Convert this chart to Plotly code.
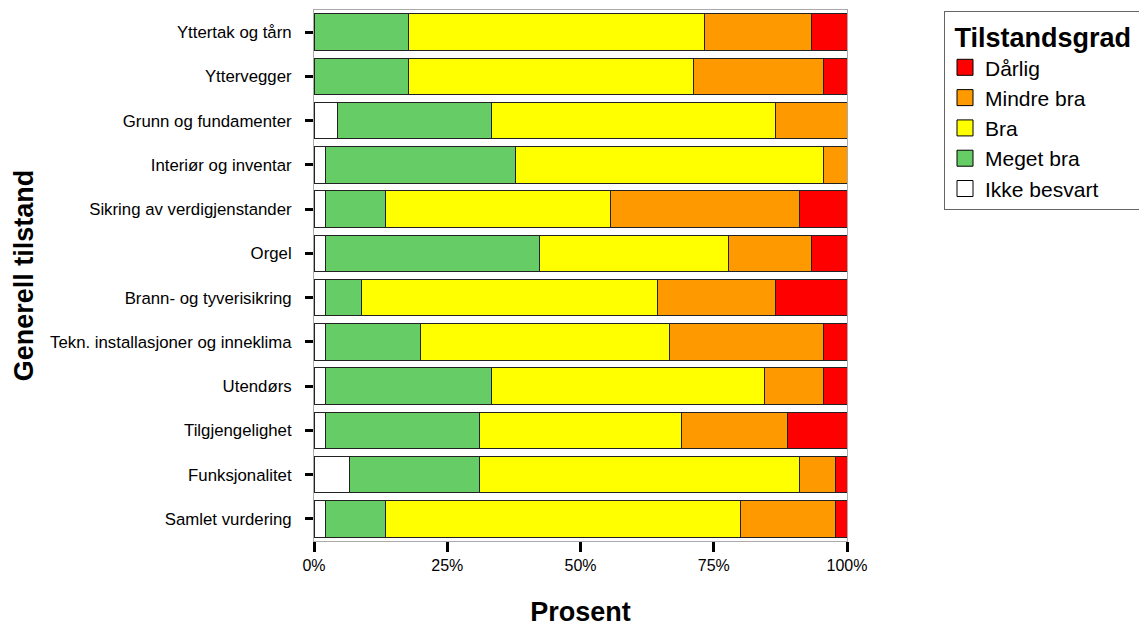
import plotly.graph_objects as go

categories = [
    "Yttertak og tårn",
    "Yttervegger",
    "Grunn og fundamenter",
    "Interiør og inventar",
    "Sikring av verdigjenstander",
    "Orgel",
    "Brann- og tyverisikring",
    "Tekn. installasjoner og inneklima",
    "Utendørs",
    "Tilgjengelighet",
    "Funksjonalitet",
    "Samlet vurdering",
]

# Counts per category (stacked and normalised to percent by Plotly)
ikke_besvart = [0, 0, 2, 1, 1, 1, 1, 1, 1, 1, 3, 1]
meget_bra    = [8, 8, 13, 16, 5, 18, 3, 8, 14, 13, 11, 5]
bra          = [25, 24, 24, 26, 19, 16, 25, 21, 23, 17, 27, 30]
mindre_bra   = [9, 11, 6, 2, 16, 7, 10, 13, 5, 9, 3, 8]
darlig       = [3, 2, 0, 0, 4, 3, 6, 2, 2, 5, 1, 1]

series = [
    ("Ikke besvart", ikke_besvart, "#FFFFFF"),
    ("Meget bra", meget_bra, "#66CC66"),
    ("Bra", bra, "#FFFF00"),
    ("Mindre bra", mindre_bra, "#FF9900"),
    ("Dårlig", darlig, "#FF0000"),
]

x_ticks = [0, 25, 50, 75, 100]
x_tick_labels = ["0%", "25%", "50%", "75%", "100%"]

FONT = "Liberation Sans, Arial, sans-serif"
NB = "\u00a0"

fig = go.Figure()
for name, vals, color in series:
    fig.add_trace(go.Bar(
        y=categories, x=vals, name=name, orientation="h",
        legendgroup=name, showlegend=False,
        marker=dict(color=color, line=dict(color="#222222", width=1)),
    ))
# legend entries with larger square swatches
for name, vals, color in series:
    fig.add_trace(go.Scatter(
        x=[None], y=[None], mode="markers", name=name, legendgroup=name,
        marker=dict(symbol="square", size=20, color=color,
                    line=dict(color="black", width=1)),
    ))

fig.update_layout(
    barmode="stack",
    barnorm="percent",
    bargap=0.17,
    width=1147, height=626,
    margin=dict(l=306, r=308, t=2, b=93, autoexpand=False),
    plot_bgcolor="white",
    paper_bgcolor="white",
    font=dict(family=FONT, color="black"),
    legend=dict(
        title=dict(text=NB + "<b>Tilstandsgrad</b>" + NB * 10,
                   font=dict(size=27, family=FONT)),
        traceorder="reversed",
        itemsizing="trace",
        font=dict(size=21, family=FONT),
        x=1.182, y=0.998, xanchor="left", yanchor="top",
        bordercolor="#666666", borderwidth=1,
        tracegroupgap=0,
    ),
    xaxis=dict(
        range=[0, 100],
        tickvals=x_ticks, ticktext=x_tick_labels,
        ticks="outside", ticklen=10, tickwidth=3, tickcolor="black",
        tickfont=dict(size=16),
        showgrid=False, zeroline=False, automargin=False,
        showline=True, linecolor="#aaaaaa", linewidth=1, mirror=True,
        title=dict(text="<b>Prosent</b>", font=dict(size=27), standoff=28),
    ),
    yaxis=dict(
        categoryorder="array", categoryarray=categories,
        autorange="reversed",
        ticks="outside", ticklen=8, tickwidth=3, tickcolor="black",
        tickfont=dict(size=16.8),
        ticklabelstandoff=10,
        showgrid=False, zeroline=False, automargin=False,
        showline=True, linecolor="#aaaaaa", linewidth=1, mirror=True,
        title=dict(text="<b>Generell tilstand</b>", font=dict(size=27), standoff=8),
    ),
)

fig.write_html("out.html")
